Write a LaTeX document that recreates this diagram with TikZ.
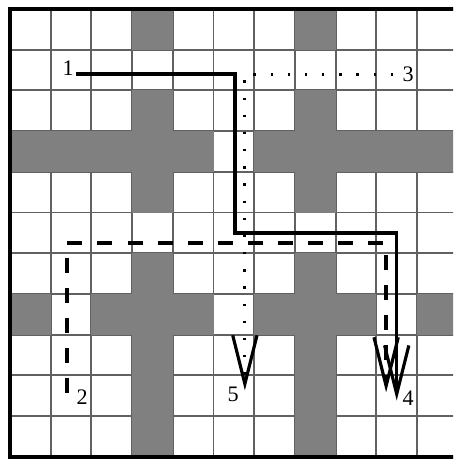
\documentclass[tikz,border=0pt]{standalone}
\usepackage{fontspec}
\setmainfont{Liberation Serif}
\usetikzlibrary{arrows.meta}

\begin{document}
\begin{tikzpicture}[
  x=1cm, y=-1cm,
  cellline/.style={line width=1.3pt, black!62},
  wall/.style={fill=black!50},
  border/.style={line width=2.8pt, black},
  route/.style={line width=2.3pt, black,
                -{Straight Barb[length=34pt, width=17pt, line width=2.2pt]}},
  dashroute/.style={route, dash pattern=on 10.5pt off 10.5pt},
  dotroute/.style={route, line width=2pt, dash pattern=on 1.6pt off 10.4pt},
  num/.style={font=\fontsize{15.5}{18}\selectfont, inner sep=0pt}]

\useasboundingbox (-0.246,-0.221) rectangle (10.885,11.08);
\clip (-0.246,-0.221) rectangle (10.885,11.08);

% ============================ the grid ================================
\foreach \i in {0,...,11}{\draw[cellline] (\i,0) -- (\i,11);}
\foreach \j in {0,...,11}{\draw[cellline] (0,\j) -- (11.5,\j);}

% =========================== the two crosses ===========================
\foreach \r in {0,2,3,4,6,7,8,9,10}{%
  \fill[wall] (3,\r) rectangle ++(1,1);
  \fill[wall] (7,\r) rectangle ++(1,1);}
\foreach \c in {0,1,2,4,6,8,9,10}{\fill[wall] (\c,3) rectangle ++(1,1);}
\foreach \c in {0,2,4,6,8,10}{\fill[wall] (\c,7) rectangle ++(1,1);}

\draw[border] (11.5,0) -- (0,0) -- (0,11) -- (11.5,11);

% ============================== labels ================================
\node[num] (n1) at (1.43,1.45) {1};
\node[num] (n3) at (9.78,1.60) {3};
\node[num] (n2) at (1.77,9.53) {2};
\node[num] (n5) at (5.48,9.46) {5};
\node[num] (n4) at (9.78,9.56) {4};

% ============================== routes ================================
\coordinate (s0) at (1.62,1.60);
\coordinate (s1) at (5.53,1.60);
\coordinate (s2) at (5.53,5.50);
\coordinate (s3) at (9.50,5.50);
\coordinate (s4) at (9.50,9.62);
\coordinate (d0) at (1.40,9.43);
\coordinate (d1) at (1.40,5.75);
\coordinate (d2) at (9.24,5.75);
\coordinate (d3) at (9.24,9.42);
\coordinate (t0) at (9.41,1.60);
\coordinate (t1) at (5.77,1.60);
\coordinate (t2) at (5.77,9.37);
\draw[route] (s0) -- (s1) -- (s2) -- (s3) -- (s4);
\draw[dashroute] (d0) -- (d1) -- (d2) -- (d3);
\draw[dotroute] (t0) -- (t1) -- (t2);

\end{tikzpicture}
\end{document}
